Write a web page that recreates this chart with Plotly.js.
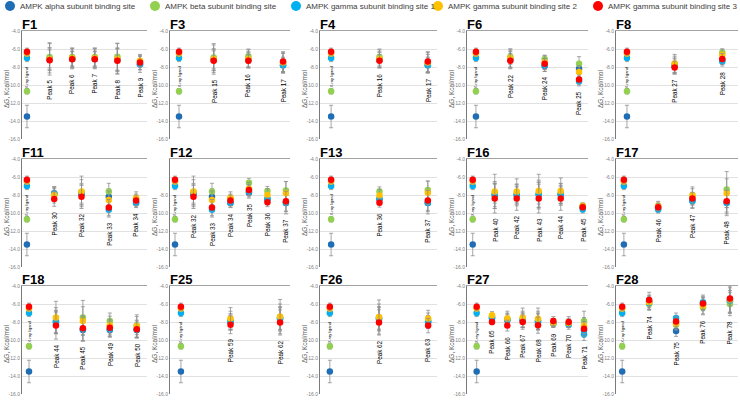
<!DOCTYPE html>
<html><head><meta charset="utf-8">
<script src="https://cdn.plot.ly/plotly-3.0.1.min.js"></script>
<style>html,body{margin:0;padding:0;background:#fff}#chart{width:740px;height:400px}</style>
</head><body><div id="chart"></div>
<script>
// ---- DATA (order of series: alpha, beta, gamma1, gamma2, gamma3) ----
const seriesNames = ["AMPK alpha subunit binding site","AMPK beta subunit binding site","AMPK gamma subunit binding site 1","AMPK gamma subunit binding site 2","AMPK gamma subunit binding site 3"];
const yTickVals = [-4,-6,-8,-10,-12,-14,-16];

const F1_cats = ["X-ray ligand","Peak 5","Peak 6","Peak 7","Peak 8","Peak 9"];
const F1_dG = [[-13.5,-7.1,-7.1,-7.1,-7.2,-7.7],[-10.7,-6.9,-6.9,-6.9,-6.85,-7.4],[-7.0,-7.1,-7.1,-7.1,-7.2,-7.7],[-6.5,-7.1,-7.0,-7.0,-7.1,-7.3],[-6.3,-7.25,-7.15,-7.15,-7.3,-7.5]];
const F1_err = [[1.25,1.0,0.8,0.8,1.2,0.6],[0.3,1.5,1.0,1.0,1.5,0.6],[0.4,1.2,1.1,1.1,1.3,0.9],[0.35,1.8,1.1,1.1,1.7,0.7],[0.4,1.4,0.9,0.9,1.4,0.8]];

const F3_cats = ["X-ray ligand","Peak 15","Peak 16","Peak 17"];
const F3_dG = [[-13.5,-7.2,-7.2,-7.8],[-10.7,-6.95,-6.8,-7.5],[-7.0,-7.2,-7.2,-7.8],[-6.5,-7.1,-7.1,-7.5],[-6.3,-7.3,-7.3,-7.4]];
const F3_err = [[1.25,1.2,0.8,0.9],[0.3,1.4,0.8,1.0],[0.4,1.0,0.9,0.8],[0.35,1.7,1.0,1.1],[0.4,1.3,0.7,1.1]];

const F4_cats = ["X-ray ligand","Peak 16","Peak 17"];
const F4_dG = [[-13.5,-7.2,-7.8],[-10.7,-6.9,-7.6],[-7.0,-7.2,-7.8],[-6.5,-7.1,-7.5],[-6.3,-7.3,-7.4]];
const F4_err = [[1.25,0.8,0.9],[0.3,0.9,1.0],[0.4,0.9,0.8],[0.35,1.0,1.1],[0.4,0.7,1.1]];

const F6_cats = ["X-ray ligand","Peak 22","Peak 24","Peak 25"];
const F6_dG = [[-13.5,-7.2,-7.9,-8.2],[-10.7,-6.85,-7.1,-7.65],[-7.0,-7.2,-7.8,-9.6],[-6.5,-7.0,-7.5,-8.55],[-6.3,-7.3,-7.65,-9.4]];
const F6_err = [[1.25,0.9,0.6,0.6],[0.3,0.85,0.4,0.8],[0.4,1.0,0.7,0.5],[0.35,1.0,0.8,0.7],[0.4,0.8,0.6,0.5]];

const F8_cats = ["X-ray ligand","Peak 27","Peak 28"];
const F8_dG = [[-13.5,-7.9,-7.2],[-10.7,-7.7,-6.4],[-7.0,-7.9,-7.4],[-6.5,-7.6,-6.65],[-6.3,-8.05,-7.1]];
const F8_err = [[1.25,0.8,0.5],[0.3,0.9,0.4],[0.4,0.9,0.5],[0.35,1.0,0.65],[0.4,0.7,0.6]];

const F11_cats = ["X-ray ligand","Peak 30","Peak 32","Peak 33","Peak 34"];
const F11_dG = [[-13.5,-7.8,-7.9,-8.2,-8.9],[-10.7,-7.9,-7.7,-7.6,-8.4],[-7.0,-7.9,-7.9,-9.65,-8.85],[-6.5,-8.0,-7.6,-8.55,-8.3],[-6.3,-8.45,-8.2,-9.4,-8.6]];
const F11_err = [[1.25,0.7,1.2,0.9,0.5],[0.3,0.8,1.4,0.9,0.5],[0.4,0.6,1.0,0.8,0.5],[0.35,0.9,1.7,1.0,0.65],[0.4,0.8,1.3,0.9,0.6]];

const F12_cats = ["X-ray ligand","Peak 32","Peak 33","Peak 34","Peak 35","Peak 36","Peak 37"];
const F12_dG = [[-13.5,-7.9,-8.2,-8.9,-7.75,-8.5,-8.9],[-10.7,-7.7,-7.6,-8.4,-6.65,-7.55,-7.5],[-7.0,-7.9,-9.65,-8.85,-7.6,-8.4,-8.85],[-6.5,-7.6,-8.55,-8.3,-7.3,-8.0,-7.8],[-6.3,-8.2,-9.4,-8.6,-7.45,-8.8,-8.7]];
const F12_err = [[1.25,1.2,0.9,0.5,0.6,0.6,1.2],[0.3,1.4,0.9,0.5,0.5,0.5,1.0],[0.4,1.0,0.8,0.5,0.6,0.6,1.0],[0.35,1.7,1.0,0.65,0.7,0.7,1.3],[0.4,1.3,0.9,0.6,0.6,0.5,1.1]];

const F13_cats = ["X-ray ligand","Peak 36","Peak 37"];
const F13_dG = [[-13.5,-8.5,-8.9],[-10.7,-7.6,-7.45],[-7.0,-8.4,-8.85],[-6.5,-8.05,-7.75],[-6.3,-8.85,-8.6]];
const F13_err = [[1.25,0.6,1.2],[0.3,0.5,1.0],[0.4,0.6,1.0],[0.35,0.7,1.3],[0.4,0.5,1.1]];

const F16_cats = ["X-ray ligand","Peak 40","Peak 42","Peak 43","Peak 44","Peak 45"];
const F16_dG = [[-13.5,-8.0,-8.0,-7.95,-7.95,-9.4],[-10.7,-7.8,-7.8,-7.8,-7.8,-9.2],[-7.0,-8.0,-8.0,-7.95,-7.95,-9.6],[-6.5,-7.6,-7.6,-7.55,-7.55,-9.2],[-6.3,-8.4,-8.4,-8.4,-8.4,-9.35]];
const F16_err = [[1.25,1.3,1.0,1.4,1.0,0.35],[0.3,1.1,1.0,1.2,1.1,0.3],[0.4,1.5,1.2,1.6,1.2,0.4],[0.35,1.9,1.4,1.85,1.45,0.3],[0.4,1.6,1.3,1.6,1.3,0.35]];

const F17_cats = ["X-ray ligand","Peak 46","Peak 47","Peak 48"];
const F17_dG = [[-13.5,-9.5,-8.6,-8.8],[-10.7,-9.3,-8.2,-7.4],[-7.0,-9.6,-8.7,-8.9],[-6.5,-9.2,-8.0,-7.8],[-6.3,-9.35,-8.4,-8.7]];
const F17_err = [[1.25,0.4,0.8,1.3],[0.3,0.5,0.9,2.0],[0.4,0.4,0.8,1.4],[0.35,0.5,0.9,1.6],[0.4,0.4,0.7,1.2]];

const F18_cats = ["X-ray ligand","Peak 44","Peak 45","Peak 49","Peak 50"];
const F18_dG = [[-13.5,-8.0,-8.9,-8.9,-8.9],[-10.7,-7.8,-7.5,-7.9,-8.4],[-7.0,-8.0,-8.8,-8.8,-8.8],[-6.5,-7.5,-7.9,-8.35,-8.45],[-6.3,-8.4,-8.7,-8.65,-8.8]];
const F18_err = [[1.25,1.2,1.2,0.8,0.8],[0.3,1.4,1.9,0.9,1.0],[0.4,1.3,1.3,0.8,0.9],[0.35,1.8,1.6,1.0,1.25],[0.4,1.5,1.4,0.9,1.0]];

const F25_cats = ["X-ray ligand","Peak 59","Peak 62"];
const F25_dG = [[-13.5,-8.0,-7.6],[-10.7,-7.8,-7.5],[-7.0,-8.0,-7.6],[-6.5,-7.6,-7.4],[-6.3,-8.3,-8.05]];
const F25_err = [[1.25,0.9,1.3],[0.3,1.0,1.5],[0.4,0.9,1.2],[0.35,1.2,1.9],[0.4,1.0,1.4]];

const F26_cats = ["X-ray ligand","Peak 62","Peak 63"];
const F26_dG = [[-13.5,-7.6,-8.0],[-10.7,-7.5,-7.8],[-7.0,-7.6,-8.0],[-6.5,-7.45,-7.6],[-6.3,-8.05,-8.4]];
const F26_err = [[1.25,1.3,0.7],[0.3,1.5,0.8],[0.4,1.2,0.7],[0.35,1.9,0.9],[0.4,1.4,0.8]];

const F27_cats = ["X-ray ligand","Peak 65","Peak 66","Peak 67","Peak 68","Peak 69","Peak 70","Peak 71"];
const F27_dG = [[-13.5,-7.6,-7.8,-7.8,-8.0,-8.1,-8.2,-8.9],[-10.7,-7.4,-7.7,-7.7,-7.8,-8.2,-8.2,-7.9],[-7.0,-7.5,-7.7,-7.8,-7.9,-8.1,-8.3,-9.35],[-6.5,-7.25,-7.6,-7.5,-7.65,-8.1,-8.1,-8.4],[-6.3,-8.0,-8.4,-8.0,-8.35,-7.9,-8.0,-8.75]];
const F27_err = [[1.25,0.3,0.6,0.8,0.9,0.4,0.4,0.8],[0.3,0.35,0.7,0.9,1.0,0.4,0.4,1.1],[0.4,0.3,0.6,0.8,0.9,0.4,0.5,0.7],[0.35,0.4,0.8,1.05,1.2,0.5,0.5,0.9],[0.4,0.3,0.6,0.8,0.9,0.5,0.6,0.8]];

const F28_cats = ["X-ray ligand","Peak 74","Peak 75","Peak 76","Peak 78"];
const F28_dG = [[-13.5,-5.7,-9.0,-6.0,-5.7],[-10.7,-6.0,-8.3,-6.4,-6.0],[-7.0,-5.9,-7.55,-5.8,-5.6],[-6.5,-5.8,-8.2,-6.2,-5.5],[-6.3,-5.55,-7.95,-5.95,-5.4]];
const F28_err = [[1.25,0.6,0.6,0.7,1.2],[0.3,0.7,0.6,0.8,1.3],[0.4,0.7,0.55,0.8,1.4],[0.35,0.8,0.6,0.9,1.5],[0.4,0.85,0.6,0.8,1.6]];

// ---- LAYOUT / STYLE ----
const W = 740, H = 400;
const colX = [22,170,320,467,616], colR = [147,290,437,588,738];
const rowT = [31,159,286], rowB = [139,267,394];
const colors = ['#1f6db5','#92d050','#00b0f0','#ffc000','#ff0000'];
const legendCx = [10,155,296,438,598];

const panels = [
  {name:'F1', cats:F1_cats, dG:F1_dG, err:F1_err, r:0, c:0, pl:0.22, pr:0.31},
  {name:'F3', cats:F3_cats, dG:F3_dG, err:F3_err, r:0, c:1, pl:0.26, pr:0.2},
  {name:'F4', cats:F4_cats, dG:F4_dG, err:F4_err, r:0, c:2, pl:0.23, pr:0.19},
  {name:'F6', cats:F6_cats, dG:F6_dG, err:F6_err, r:0, c:3, pl:0.26, pr:0.26},
  {name:'F8', cats:F8_cats, dG:F8_dG, err:F8_err, r:0, c:4, pl:0.23, pr:0.33},
  {name:'F11', cats:F11_cats, dG:F11_dG, err:F11_err, r:1, c:0, pl:0.18, pr:0.4},
  {name:'F12', cats:F12_cats, dG:F12_dG, err:F12_err, r:1, c:1, pl:0.27, pr:0.22, hideTop:true},
  {name:'F13', cats:F13_cats, dG:F13_dG, err:F13_err, r:1, c:2, pl:0.23, pr:0.19},
  {name:'F16', cats:F16_cats, dG:F16_dG, err:F16_err, r:1, c:3, pl:0.26, pr:0.24},
  {name:'F17', cats:F17_cats, dG:F17_dG, err:F17_err, r:1, c:4, pl:0.23, pr:0.33},
  {name:'F18', cats:F18_cats, dG:F18_dG, err:F18_err, r:2, c:0, pl:0.26, pr:0.38},
  {name:'F25', cats:F25_cats, dG:F25_dG, err:F25_err, r:2, c:1, pl:0.22, pr:0.2},
  {name:'F26', cats:F26_cats, dG:F26_dG, err:F26_err, r:2, c:2, pl:0.2, pr:0.18},
  {name:'F27', cats:F27_cats, dG:F27_dG, err:F27_err, r:2, c:3, pl:0.63, pr:0.26},
  {name:'F28', cats:F28_cats, dG:F28_dG, err:F28_err, r:2, c:4, pl:0.23, pr:0.3}
];

const data = [];
const layout = {
  width: W, height: H, margin: {l:0, r:0, t:0, b:0},
  showlegend: false, paper_bgcolor: '#fff', plot_bgcolor: 'rgba(0,0,0,0)',
  font: {family: 'Arial, "Liberation Sans", sans-serif'},
  annotations: [], shapes: []
};

panels.forEach((p, i) => {
  const k = i + 1, suf = k === 1 ? '' : String(k);
  const xa = 'x' + suf, ya = 'y' + suf;
  const idx = p.cats.map((_, j) => j);
  for (let s = 0; s < 5; s++) {
    data.push({
      type: 'scatter', mode: 'markers', x: idx, y: p.dG[s], xaxis: xa, yaxis: ya,
      name: seriesNames[s], cliponaxis: false, hoverinfo: 'skip',
      marker: {color: colors[s], size: 6.5},
      error_y: {type: 'data', array: p.err[s], visible: true, color: '#8f8f8f', thickness: 0.8, width: 2}
    });
  }
  layout['xaxis' + suf] = {
    domain: [colX[p.c] / W, colR[p.c] / W], anchor: ya,
    range: [-p.pl, p.cats.length - 1 + p.pr], side: 'top',
    showline: true, linecolor: '#a3a3a3', linewidth: 1.5,
    showgrid: false, zeroline: false, showticklabels: false, ticks: '', fixedrange: true
  };
  layout['yaxis' + suf] = {
    domain: [1 - rowB[p.r] / H, 1 - rowT[p.r] / H], anchor: xa,
    range: [-16, -4], tickvals: yTickVals,
    ticktext: yTickVals.map(v => (p.hideTop && v > -8) ? '' : v.toFixed(1)),
    tickfont: {size: 5, color: '#808080'},
    showgrid: true, gridcolor: '#dadada', gridwidth: 0.8,
    showline: true, linecolor: '#7a7a7a', linewidth: 1,
    zeroline: false, ticks: '', fixedrange: true
  };
  // panel title
  layout.annotations.push({
    xref: 'paper', yref: 'paper', x: (colX[p.c] - 2) / W, y: 1 - (rowT[p.r] + 3) / H,
    xanchor: 'left', yanchor: 'bottom', showarrow: false,
    text: '<b>' + p.name + '</b>', font: {size: 13, color: '#000'}
  });
  // y title
  layout.annotations.push({
    xref: 'paper', yref: 'paper', x: (colX[p.c] - 16) / W, y: 1 - (rowT[p.r] + 58) / H,
    xanchor: 'center', yanchor: 'middle', showarrow: false, textangle: -90,
    text: '\u0394G, Kcal/mol', font: {size: 6.5, color: '#595959'}
  });
  // category labels, placed under the lowest error-bar end of each category
  p.cats.forEach((cat, j) => {
    const low = j === 0 ? p.dG[2][0] : Math.min(...p.dG.map((a, s) => a[j] - p.err[s][j]));
    layout.annotations.push({
      xref: xa, yref: ya, x: j, y: low, yshift: j === 0 ? -7 : -3,
      xanchor: 'center', yanchor: 'top', showarrow: false, textangle: -90,
      text: cat, font: {size: j === 0 ? 4 : 6.3, color: '#000'}
    });
  });
});

// legend drawn at top
seriesNames.forEach((n, s) => {
  const cx = legendCx[s];
  layout.shapes.push({
    type: 'circle', xref: 'paper', yref: 'paper',
    x0: (cx - 5) / W, x1: (cx + 5) / W, y0: 1 - 11 / H, y1: 1 - 1 / H,
    fillcolor: colors[s], line: {width: 0}
  });
  layout.annotations.push({
    xref: 'paper', yref: 'paper', x: (cx + 8) / W, y: 1 - 6 / H,
    xanchor: 'left', yanchor: 'middle', showarrow: false,
    text: n, font: {size: 8, color: '#404040'}
  });
});

Plotly.newPlot('chart', data, layout, {staticPlot: true, displayModeBar: false});
</script>
</body></html>
